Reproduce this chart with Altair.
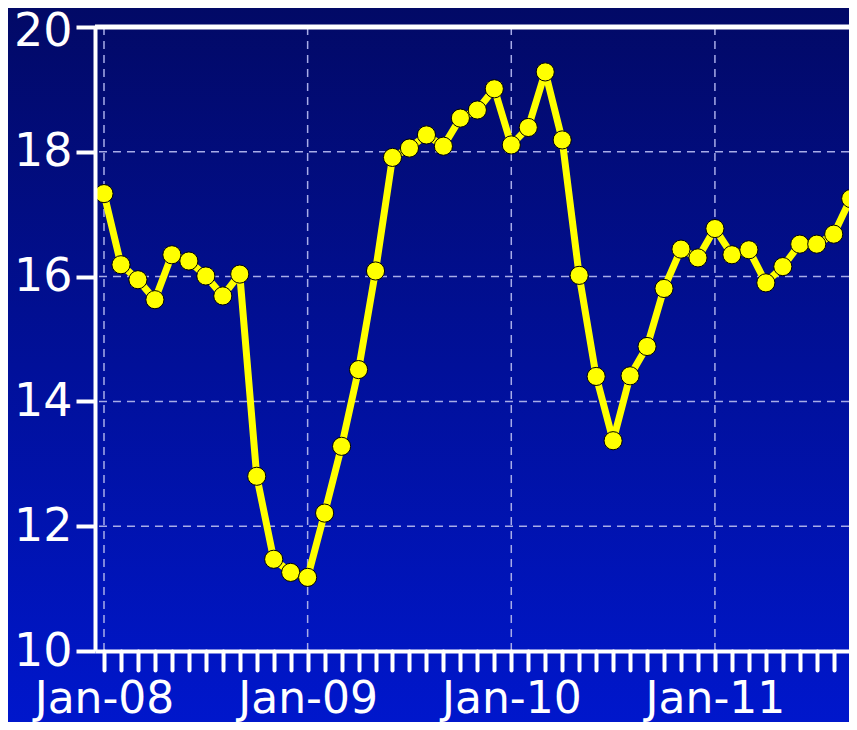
import altair as alt
import pandas as pd

# Monthly values, Jan-08 .. Sep-11
values = [17.33, 16.19, 15.95, 15.63, 16.35, 16.25, 16.01, 15.69, 16.04, 12.80, 11.47, 11.26,
          11.18, 12.21, 13.28, 14.51, 16.09, 17.91, 18.06, 18.27, 18.09, 18.54, 18.67, 19.01,
          18.11, 18.39, 19.28, 18.19, 16.02, 14.40, 13.37, 14.41, 14.88, 15.81, 16.44, 16.30,
          16.77, 16.35, 16.43, 15.90, 16.16, 16.52, 16.52, 16.68, 17.25]
month_index = list(range(len(values)))
year_ticks = [0, 12, 24, 36]
year_labels = ["Jan-08", "Jan-09", "Jan-10", "Jan-11"]
y_ticks = [10, 12, 14, 16, 18, 20]

df = pd.DataFrame({"m": month_index, "v": values})

label_expr = " : ".join(
    f"datum.value === {t} ? '{lab}'" for t, lab in zip(year_ticks, year_labels)
) + " : ''"

GRID = "#a8ace8"

x_scale = alt.Scale(domain=[-0.53, 43.9], nice=False, zero=False)
y_scale = alt.Scale(domain=[10, 20], nice=False, zero=False)

axis_style = dict(
    domainColor="#ffffff",
    domainWidth=4,
    tickColor="#ffffff",
    tickWidth=4,
    labelColor="#ffffff",
    labelFont="DejaVu Sans",
    zindex=2,
    grid=False,
    labelOverlap=False,
)

x_axis = alt.Axis(
    values=month_index,
    labelExpr=label_expr,
    labelFlush=False,
    labelBound=False,
    labelFontSize=44,
    labelPadding=7,
    tickSize=19,
    tickCap="round",
    **axis_style,
)
y_axis = alt.Axis(
    values=y_ticks, format="d", labelFontSize=46, labelPadding=4, tickSize=19,
    labelOffset={"condition": {"test": f"datum.value === {y_ticks[-1]}", "value": 4}, "value": 0},
    **axis_style,
)


def X(field):
    return alt.X(field, title=None, scale=x_scale, axis=x_axis)


def Y(field):
    return alt.Y(field, title=None, scale=y_scale, axis=y_axis)


bg = alt.Chart(pd.DataFrame({"a": [0]})).mark_rect(
    fill=alt.LinearGradient(
        gradient="linear",
        stops=[alt.GradientStop(color="#020965", offset=0),
               alt.GradientStop(color="#0017cd", offset=1)],
        x1=0, x2=0, y1=0, y2=1,
    ),
    strokeWidth=0,
).encode(x=alt.value(-95), x2=alt.value(790), y=alt.value(-27), y2=alt.value(703))

vgrid = alt.Chart(pd.DataFrame({"t": year_ticks})).mark_rule(
    color=GRID, strokeDash=[8, 6], strokeWidth=1.5
).encode(x=X("t:Q"))

hgrid = alt.Chart(pd.DataFrame({"g": y_ticks[1:-1]})).mark_rule(
    color=GRID, strokeDash=[8, 6], strokeWidth=1.5
).encode(y=Y("g:Q"))

top = alt.Chart(pd.DataFrame({"g": [y_ticks[-1]]})).mark_rule(
    color="#ffffff", strokeWidth=5
).encode(y=Y("g:Q"))

line = alt.Chart(df).mark_line(
    color="#ffff00", strokeWidth=7, strokeJoin="round"
).encode(x=X("m:Q"), y=Y("v:Q"))
pts = alt.Chart(df).mark_point(
    filled=True, fill="#ffff00", stroke="#000000", strokeWidth=1, size=330, opacity=1
).encode(x=X("m:Q"), y=Y("v:Q"))

chart = (
    alt.layer(bg, vgrid, hgrid, top, line, pts)
    .properties(
        width=754,
        height=624,
        autosize=alt.AutoSizeParams(type="none"),
        padding={"left": 87, "top": 19, "right": 0, "bottom": 71},
    )
    .configure_view(stroke=None)
)

chart.save("out.html", embed_options={"renderer": "svg", "actions": False})
